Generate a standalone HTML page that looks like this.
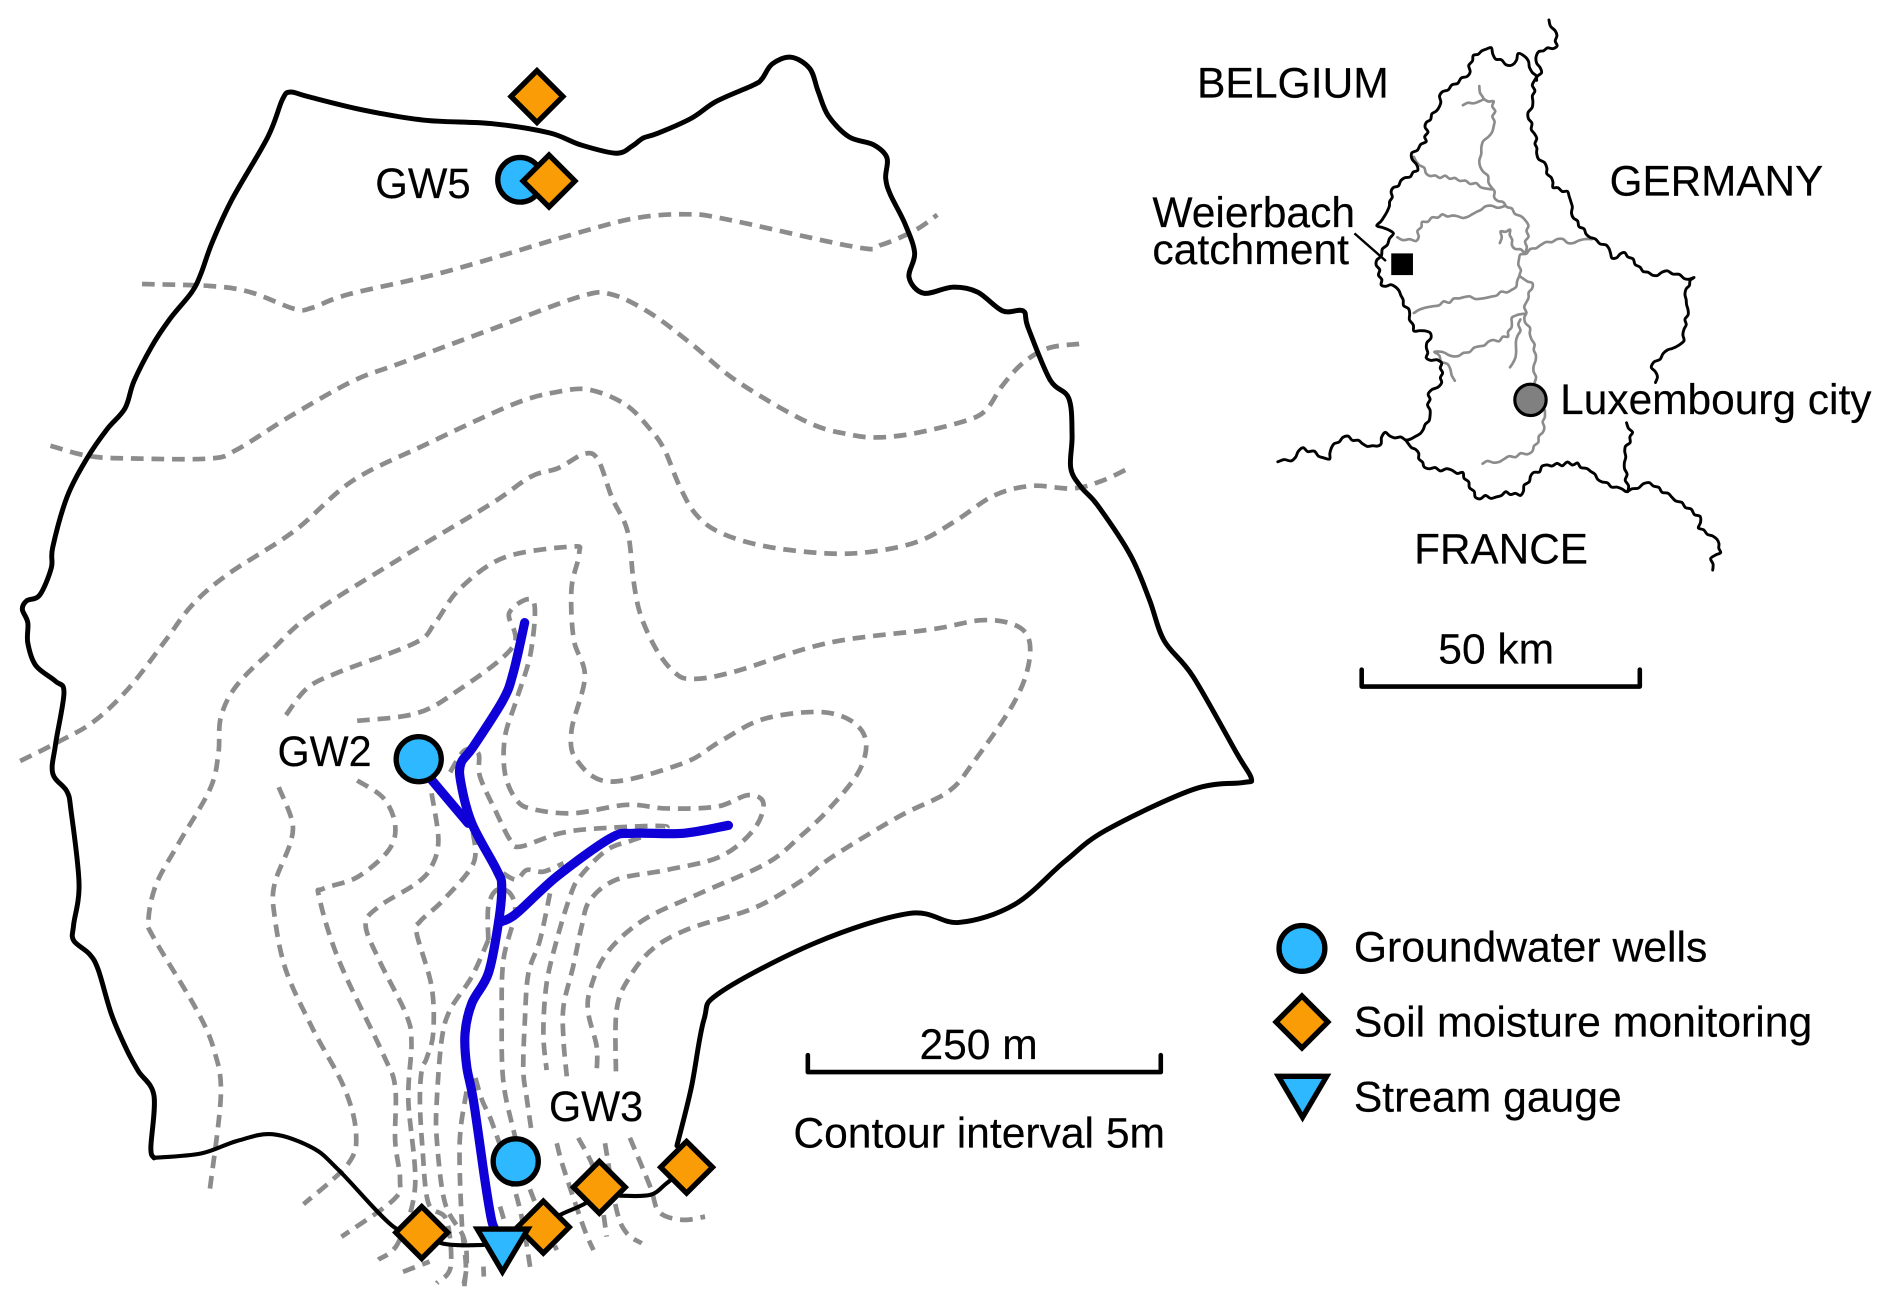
<!DOCTYPE html>
<html>
<head>
<meta charset="utf-8">
<style>
html,body{margin:0;padding:0;background:#fff;}
svg{display:block;}
text{font-family:"Liberation Sans",sans-serif;font-size:35px;fill:#000;stroke:#000;stroke-width:0.15px;}
.b{fill:none;stroke:#000;stroke-width:4.1;stroke-linejoin:round;stroke-linecap:round;}
.t{fill:none;stroke:#000;stroke-width:3.4;stroke-linejoin:round;stroke-linecap:round;}
.c{fill:none;stroke:#8c8c8c;stroke-width:3.9;stroke-dasharray:10.5 6.5;stroke-linejoin:round;}
.w{fill:none;stroke:#0f00d8;stroke-width:7.6;stroke-linecap:round;stroke-linejoin:round;}
.m{fill:none;stroke:#000;stroke-width:2.4;stroke-linejoin:round;stroke-linecap:round;}
.r{fill:none;stroke:#8c8c8c;stroke-width:2.2;stroke-linejoin:round;stroke-linecap:round;}
.d{fill:#fa9c05;stroke:#000;stroke-width:4.4;stroke-linejoin:miter;}
.o{fill:#2db8ff;stroke:#000;stroke-width:4.4;}
</style>
</head>
<body>
<svg xmlns="http://www.w3.org/2000/svg" width="1892" height="1307" viewBox="0 0 1568 1083.2">
<rect x="0" y="0" width="1568" height="1083.2" fill="#fff"/>

<!-- contours -->
<g>
<polyline class="c s" points="117.7,235.4 174,237 207,242 244,256 259,255 288.6,244 370,225 481,192.4 529,180.4 569.6,177.6 600.5,181.4 710.5,205 731,202.7 758.6,190.7 776.8,178"/>
<polyline class="c s" points="41.8,369.4 74,378 111,380 174,380 196,372.8 240.5,345 292,316 333,300.6 407,273 481,245.7 507,244 538.7,259.4 573,285 610.9,316 669,349.8 703.6,360 727.7,362.5 758.6,359 800,348.8 817,340 830.8,319.5 848,300.6 868.5,288.6 894.3,285"/>
<polyline class="c s" points="16.7,630.7 48,615 77.7,598 107,570 137,531 159,501.7 188.7,476 244,440 292,398.6 351.5,369 425.5,335 462.5,324.7 488.4,323 518,335 538.7,355.6 550.7,372.8 562.8,402 576.5,426 597,441.5 635,452.9 686.5,458.7 724,457 762,448.4 793,431 824,410.6 854.8,402.7 889,404.8 913,398.6 935.5,388"/>
<polyline class="c s" points="174,985 183,908 177.6,871 163,837 127.6,777.6 123,762.6 129.5,732.7 148,699 174,654 181,624.4 183,594.5 196,568.3 225.7,538.4 259,508.5 333,462 407,417.5 440,395 462.5,388 484.7,376 495.8,381.4 507,412 520,440 525,481 531,510 544,538.4 558.7,557 573,562.7 607.4,557 686.5,532.8 772,521.6 813.6,514 841,517.9 853,531 851,557 837.6,587 806.7,631.8 786,656 745,676.7 690,710 663,730.7 624.4,752.8 572,769.4 541.5,786 522,809.4 511,837 510.5,892.3"/>
<polyline class="c s" points="237,592.6 255,570 281,557 344,532.8 360.7,516 381,488 418,462 473.6,453 480,458.7 473.6,488 475.5,530 484.7,560.8 473.6,605.7 478,630 505.6,647.8 566,632.6 596.7,614.6 631.5,596.3 676,590 703.6,596.3 717.4,613 712,639 686.5,671 663,693.4 635.4,715.5 580,740.4 533.2,762.5 502.8,790 489,820.5 487.6,839.8 494.5,867.5 494.5,888"/>
<polyline class="c s" points="296,597.4 344,591.5 377,574 425,536 422,508 442,498 440,540 428,580 418.5,610.5 418.5,641 428,663 442,670.7 475,674 519.4,667 552.5,670 594,668.5 620,659 632.7,665.8 624.4,687.9 596.7,710 552.5,721 511,729 489,746 482,768 475,801 467,834 467,862 469.7,892"/>
<polyline class="c s" points="373,640 385,622 396.4,624.3 397.8,643.6 411.6,674 422.7,696 431,701.7 464,690.6 497,686.5 552.5,685 525,696 503,704.4 480.7,726.5 472.4,743 461.4,779 453,815 450.3,856.4 453,886.8"/>
<polyline class="c s" points="392,690 392.3,715.5 367.4,745.9 348,763.8 345.3,773.5 357.7,817.7 359,856.4 353.6,877 349.5,886.8 348,911.7 350,950 355,997 370,1011 373.5,1049.7 362,1063.5"/>
<polyline class="c s" points="357.7,657.5 363.3,696 357.7,718 345.3,732 314.5,751 303,766.4 314.5,796.3 336.7,841 341,864.7 338.4,911.7 344,983.4 330,1030 313.5,1044"/>
<polyline class="c s" points="296,646.8 318,661.7 327.5,684 322,704.7 296,727 268,736.5 264.6,744 281,796.3 318,874.7 327.5,901 327.5,945.7 331.5,978 326,994.5 283,1025"/>
<polyline class="c s" points="231,652.4 242,680.4 240.5,699 227.5,732.7 227.5,758.9 236.8,803.7 259,852.3 285,900.9 295,938.3 288.6,964.4 251.6,998"/>
<polyline class="c s" points="404.7,779 391,809.4 373,837 366,862 362,911.7 362,944.7 368.8,997 384,1025 386.8,1047 384,1066"/>
<polyline class="c s" points="404.7,779 404.7,751.4 411.6,737.6 422.7,740.4 426.8,757 417.2,795.6 415.8,842.6 417,895 425.5,936.4 439.3,986 461.4,1036"/>
<polyline class="c s" points="417,723.8 428,729 436.5,721 450.3,722.4 467,715.5"/>
<polyline class="c s" points="455.8,740.4 447.5,779 437.9,806.7 435,845.4 433.7,886.8 436.5,910 440.7,939"/>
<polyline class="c s" points="334,1054 356,1045.6"/>
<polyline class="c s" points="394,893.4 399.6,912 409,933.7 429.6,997 440,1054"/>
<polyline class="c s" points="386.6,904.6 381,945.7 382.6,1011 386,1047 384.8,1066"/>
<polyline class="c s" points="414.4,1000 418,1012"/>
<polyline class="c s" points="400.6,1049.7 401,1058"/>
<polyline class="c s" points="461.4,947.5 467,968 483.5,1016.6 491.8,1036"/>
<polyline class="c s" points="479.3,943 494.5,975 502.8,1024.9"/>
<polyline class="c s" points="501.4,947.5 511,1002.8 519.4,1022 531.8,1030.4"/>
<polyline class="c s" points="522,943 538.8,983.4 544.3,1001.4 552.5,1008.3 568,1011 584.3,1008.3"/>
</g>

<!-- catchment boundary -->
<polyline class="b s" points="561,949.5 573,901 583.4,845 597,822.4 676,781.3 753.5,757 794.7,764.5 841,749.5 882.3,714 916.7,688 988.8,654.3 1030,648.6 1037,645 1025,624.4 988.8,560.8 964.8,531 952.7,497.3 937,460.4 909.8,419 896,403.7 887.4,388 888.5,360.8 885.7,330 870,314.4 852,271.4 848,257.7 831,257.7 810,242 789.5,238 765.5,243 753.4,230 758,209.6 750,185.5 738,161.5 734,147.7 735,130.6 724,120 703.6,113.4 686.5,96 678,75.6 671,56.7 655.5,47.4 640,53 631.5,65.3 624.6,70.4 593.7,84 573,98 545,110.5 533,114.4 524,121 510.6,127 481,120 455,110 407,102.4 351.5,99.6 300,91 255,80 240.5,76.3 234,82.5 222,113.4 192.4,165 175.8,201 166.5,226.8 159,242 140.6,264.6 125.8,287 111,316 103.6,338.4 88.8,355.6 72,380 55.5,412 43.7,453.5 42.5,470.7 33,493 22,498 18.5,505 23,516 23,532.8 29.6,551.5 46,564.6 53,574 46,617 43.7,641 55.5,656 59,673 65.5,732.7 61,766.4 61,779.4 74,790.6 81.4,803.7 92.5,841 105.5,871 114.7,887.8 127.6,908 125,951.3 127.6,959.6"/>
<polyline class="t s" points="127.6,959.6 166.5,956 196,945.7 225.7,940 259,951.3 281,970 326,1016.6 349.5,1021.5 364.7,1030 381,1032 400.6,1031.8"/>
<polyline class="t s" points="450.3,1017 464,1007 486,996.7 496.7,984"/>
<polyline class="t s" points="514,991 538.8,990.3 552.5,980.6 569,967.4"/>

<!-- stream -->
<polyline class="w s" points="434.8,516 425.5,557 417,580 392.3,618.8 382,632.6 382,649 391,682.3 411.6,721 415.8,734.8 413,765.2 404.7,806.7 391,831.5 385.4,856.4 386.8,884 392.3,911.7 401.5,975.6 407,1009.3 410,1018.6"/>
<polyline class="w s" points="357.7,646.4 388,682.3"/>
<polyline class="w s" points="415.8,763.8 428,757 461.4,726.5 505.6,694.8 525,690.6 566.4,690.6 603.7,684"/>

<!-- markers -->
<polygon class="d" points="445,58.5 466.5,80 445,101.5 423.5,80"/>
<circle class="o" cx="431" cy="149" r="18.5"/>
<polygon class="d" points="455,128.5 476.5,150 455,171.5 433.5,150"/>
<circle class="o" cx="347" cy="629.2" r="18.7"/>
<circle class="o" cx="427.4" cy="962.5" r="18.7"/>
<polygon class="d" points="569,946 590.5,967.4 569,988.8 547.5,967.4"/>
<polygon class="d" points="496.7,962.5 518.2,984 496.7,1005.5 475.2,984"/>
<polygon class="d" points="450.3,995.5 471.8,1017 450.3,1038.5 428.8,1017"/>
<polygon class="d" points="349.5,1000 371,1021.5 349.5,1043 328,1021.5"/>
<polygon class="o" style="stroke-linejoin:miter" points="395.5,1018.6 437.5,1018.6 416.4,1054"/>

<!-- labels map -->
<text x="311" y="164" textLength="79" lengthAdjust="spacingAndGlyphs">GW5</text>
<text x="230" y="635" textLength="78" lengthAdjust="spacingAndGlyphs">GW2</text>
<text x="455" y="929" textLength="78" lengthAdjust="spacingAndGlyphs">GW3</text>

<!-- scale bar 250 m -->
<polyline points="669.5,874.5 669.5,888.5 962,888.5 962,874.5" fill="none" stroke="#000" stroke-width="3.8" stroke-linejoin="round" stroke-linecap="round"/>
<text x="762" y="877.5" textLength="98" lengthAdjust="spacingAndGlyphs">250 m</text>
<text x="657.5" y="951" textLength="308" lengthAdjust="spacingAndGlyphs">Contour interval 5m</text>

<!-- legend -->
<circle class="o" cx="1079" cy="786" r="19"/>
<polygon class="d" points="1079,825.5 1100.5,847 1079,868.5 1057.5,847"/>
<polygon class="o" style="stroke-linejoin:miter" points="1059.5,892 1099.5,892 1079.5,926"/>
<text x="1122" y="797" textLength="293" lengthAdjust="spacingAndGlyphs">Groundwater wells</text>
<text x="1122" y="859" textLength="380" lengthAdjust="spacingAndGlyphs">Soil moisture monitoring</text>
<text x="1122" y="921" textLength="222" lengthAdjust="spacingAndGlyphs">Stream gauge</text>

<!-- Luxembourg map -->
<polyline class="r j" points="1226,71.3 1229.4,81.8 1212.4,87.2"/>
<polyline class="r j" points="1229.4,81.8 1237.9,84 1237.9,104.6 1227.7,122 1226,133 1236.2,155.4 1241.3,166.5 1253,172.8 1266.7,187 1264,209.3"/>
<polyline class="r j" points="1171.7,130 1185.3,145.9 1205.7,147.5 1236.2,157"/>
<polyline class="r j" points="1158,196.6 1173.4,199.8 1178.5,184 1195.5,177.6 1212.4,180.7 1231,171 1246.4,171"/>
<polyline class="r j" points="1243,201.4 1243.6,191.8 1251.5,190.3 1253,203 1263.3,210"/>
<polyline class="r j" points="1319.3,198.2 1304,201.4 1290.5,198.2 1277,203 1260,210.9 1259.3,228.3 1270,234.7 1265,250.5 1263.3,263.2 1271.8,285.4 1271.8,317"/>
<polyline class="r j" points="1280.3,340 1280.3,345.6 1278.6,358.3 1270,374 1246.4,380.5 1228.7,384.3"/>
<polyline class="r j" points="1259.3,228.3 1256.5,237.8 1236.2,245.8 1209,247.3 1188.7,253.7 1171.7,259.4"/>
<polyline class="r j" points="1263.3,260 1253,263.2 1249.8,279 1226,287 1209,294.9 1188.7,291.7 1202,306 1205.7,315.5"/>
<polyline class="r j" points="1260,264.8 1256.5,291.7 1251.5,304.4"/>

<polyline class="m j" points="1283.7,16.5 1288.8,25.4 1290.5,38 1275.2,42.8 1273.5,52.3 1277.6,60.2 1271.8,66.6 1270,79.3 1266.7,98.3 1271.8,111 1273.5,126.8 1282,139.5 1287,155.4 1299,158.6 1304,180.7 1317.6,196.6 1331,203 1336,214 1346.5,209.3 1361.7,225 1373.6,228.3 1382,224.5 1395.7,230.8 1404,230 1397.4,239.4 1399,256.9 1395.7,272.7 1395.7,282.2 1382,290 1368.5,304.4 1373.6,312.4 1372,317"/>
<polyline class="m j" points="1273.5,66.6 1270,60.2 1266.7,50.7 1258.2,44.4 1253,53.9 1239.6,49 1236,39.6 1221,46 1215.8,63.4 1195.5,76 1190.4,92 1182,101.5 1182,117.3 1170,126.8 1175,141 1154.8,155.4 1151.4,171 1141,187 1154.8,193.4 1149.7,203 1141,215.6 1144.6,236 1156.5,237.8 1168.3,260 1171.7,274.3 1185.3,275.9 1182,296.5 1194.8,301 1194.8,317 1183.6,326.6 1184.3,348.8 1173.4,361.5 1165,364.7 1148,358.3 1144.6,367.8 1137.8,369.4 1129.3,367.8 1117.4,361.5 1105.6,367.8 1102,380.5 1080,371 1070,382 1059,382.7"/>
<polyline class="m j" points="1165,364.7 1173.4,372.6 1180.2,386.9 1212.4,391.6 1222.6,412 1239.6,412 1248,407.5 1260,410.6 1268.4,394.8 1282,385.3 1307.4,383.7 1327.8,399.5 1348,407.5 1366.8,400 1385.5,412 1409,428 1407.5,437.6 1423,447 1426,458 1417.7,463 1419.4,472.5"/>
<polyline class="m j" points="1348,350.4 1353,358.3 1346.5,374 1349,407.5"/>
<line x1="1122.5" y1="193.4" x2="1148.6" y2="216.3" stroke="#000" stroke-width="2"/>
<rect x="1153" y="210" width="18" height="18" fill="#000"/>
<circle cx="1268.4" cy="331.4" r="13" fill="#808080" stroke="#000" stroke-width="2.6"/>

<text x="992" y="81" textLength="159" lengthAdjust="spacingAndGlyphs">BELGIUM</text>
<text x="1334" y="162" textLength="177" lengthAdjust="spacingAndGlyphs">GERMANY</text>
<text x="1172" y="467" textLength="144" lengthAdjust="spacingAndGlyphs">FRANCE</text>
<text x="955" y="188" textLength="168" lengthAdjust="spacingAndGlyphs">Weierbach</text>
<text x="955" y="219" textLength="163" lengthAdjust="spacingAndGlyphs">catchment</text>
<text x="1293" y="343" textLength="258" lengthAdjust="spacingAndGlyphs">Luxembourg city</text>
<text x="1192" y="550" textLength="96" lengthAdjust="spacingAndGlyphs">50 km</text>
<polyline points="1128.5,555 1128.5,569 1359,569 1359,555" fill="none" stroke="#000" stroke-width="3.8" stroke-linejoin="round" stroke-linecap="round"/>
</svg>
<script>
(function(){
  var ns="http://www.w3.org/2000/svg",seed=12345;
  function rnd(){seed=(seed*1103515245+12345)&2147483647;return seed/2147483647;}
  function parse(el){return el.getAttribute("points").trim().split(/\s+/).map(function(p){return p.split(",").map(Number);});}
  function jitter(pts){
    var out=[pts[0]],sign=1;
    for(var i=0;i<pts.length-1;i++){
      var a=pts[i],b=pts[i+1],dx=b[0]-a[0],dy=b[1]-a[1],len=Math.sqrt(dx*dx+dy*dy),n=Math.max(1,Math.round(len/4.5));
      for(var k=1;k<n;k++){
        var t=k/n,amp=(0.5+rnd()*1.0)*sign;sign=rnd()<0.75?-sign:sign;
        out.push([a[0]+dx*t-dy/len*amp,a[1]+dy*t+dx/len*amp]);
      }
      out.push(b);
    }
    return out;
  }
  function smooth(el,pts){
    var f=function(v){return v.toFixed(1);};
    var d="M"+f(pts[0][0])+" "+f(pts[0][1]);
    for(var j=0;j<pts.length-1;j++){
      var p0=pts[Math.max(j-1,0)],p1=pts[j],p2=pts[j+1],p3=pts[Math.min(j+2,pts.length-1)];
      d+="C"+f(p1[0]+(p2[0]-p0[0])/6)+" "+f(p1[1]+(p2[1]-p0[1])/6)+" "+f(p2[0]-(p3[0]-p1[0])/6)+" "+f(p2[1]-(p3[1]-p1[1])/6)+" "+f(p2[0])+" "+f(p2[1]);
    }
    var path=document.createElementNS(ns,"path");
    path.setAttribute("d",d);
    path.setAttribute("class",el.getAttribute("class"));
    el.parentNode.replaceChild(path,el);
  }
  var list=document.querySelectorAll("polyline.s"),i;
  for(i=0;i<list.length;i++){smooth(list[i],parse(list[i]));}
  list=document.querySelectorAll("polyline.j");
  for(i=0;i<list.length;i++){smooth(list[i],jitter(parse(list[i])));}
})();
</script>
</body>
</html>
